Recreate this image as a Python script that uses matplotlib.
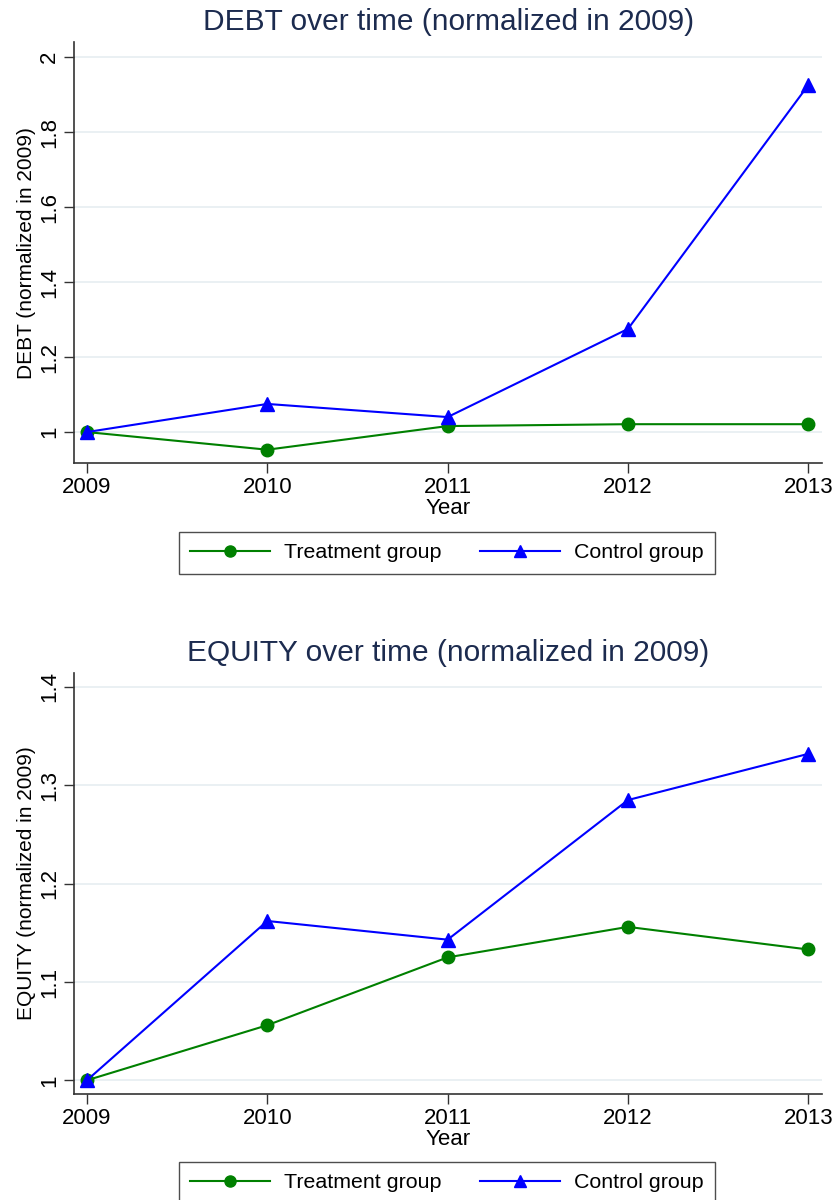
import matplotlib
matplotlib.use("Agg")
import matplotlib.pyplot as plt
from matplotlib.lines import Line2D

plt.rcParams['font.family'] = ['Liberation Sans', 'DejaVu Sans']

years = [2009, 2010, 2011, 2012, 2013]

debt_treat = [1.0, 0.953, 1.016, 1.021, 1.021]
debt_ctrl = [1.0, 1.075, 1.040, 1.275, 1.925]

equity_treat = [1.0, 1.056, 1.125, 1.156, 1.133]
equity_ctrl = [1.0, 1.162, 1.143, 1.285, 1.332]

debt_ticks = [1, 1.2, 1.4, 1.6, 1.8, 2]
debt_ticklabels = ['1', '1.2', '1.4', '1.6', '1.8', '2']
equity_ticks = [1, 1.1, 1.2, 1.3, 1.4]
equity_ticklabels = ['1', '1.1', '1.2', '1.3', '1.4']

GREEN = '#008000'
BLUE = '#0000ff'
TITLE_COL = '#1c2b4f'
GRID_COL = '#e8eff2'
FS = 16


def draw_panel(ax, treat, ctrl, ticks, ticklabels, ylim, name):
    ax.plot(years, treat, color=GREEN, lw=1.5, marker='o', ms=9, zorder=3)
    ax.plot(years, ctrl, color=BLUE, lw=1.5, marker='^', ms=10, zorder=4)
    ax.set_xlim(2008.928, 2013.078)
    ax.set_ylim(*ylim)
    ax.set_xticks(years)
    ax.set_xticklabels([str(y) for y in years], fontsize=FS)
    ax.set_yticks(ticks)
    ax.set_yticklabels(ticklabels, fontsize=FS, rotation=90, va='center')
    for t in ticks:
        ax.axhline(t, color=GRID_COL, lw=1.3, zorder=0)
    for s in ['top', 'right']:
        ax.spines[s].set_visible(False)
    for s in ['left', 'bottom']:
        ax.spines[s].set_color('#333333')
        ax.spines[s].set_linewidth(1.2)
    ax.tick_params(direction='out', length=7, width=1, color='#333333', pad=3)
    ax.set_xlabel('Year', fontsize=FS, labelpad=0)
    ax.set_ylabel(name + ' (normalized in 2009)', fontsize=15, labelpad=2)
    ax.set_title(name + ' over time (normalized in 2009)', fontsize=21.5,
                 color=TITLE_COL, pad=9)


fig = plt.figure(figsize=(8.32, 12), dpi=100)
ax1 = fig.add_axes([0.0889, 0.614, 0.8995, 0.351])
ax2 = fig.add_axes([0.0889, 0.0883, 0.8995, 0.3507])

draw_panel(ax1, debt_treat, debt_ctrl, debt_ticks, debt_ticklabels, (0.917, 2.04), 'DEBT')
draw_panel(ax2, equity_treat, equity_ctrl, equity_ticks, equity_ticklabels, (0.986, 1.414), 'EQUITY')

handles = [
    Line2D([], [], color=GREEN, lw=1.5, marker='o', ms=8),
    Line2D([], [], color=BLUE, lw=1.5, marker='^', ms=9),
]
labels = ['Treatment group', 'Control group']

for ycen in [1 - 553 / 1200, 1 - 1183 / 1200]:
    leg = fig.legend(handles, labels, ncol=2, loc='center',
                     bbox_to_anchor=(447 / 832, ycen),
                     fontsize=15.4, frameon=True, fancybox=False,
                     edgecolor='#222222', handlelength=3.74, handletextpad=0.65,
                     columnspacing=1.8, borderaxespad=0, borderpad=0.55)
    leg.get_frame().set_linewidth(1.0)

fig.savefig('out.png', dpi=100)
